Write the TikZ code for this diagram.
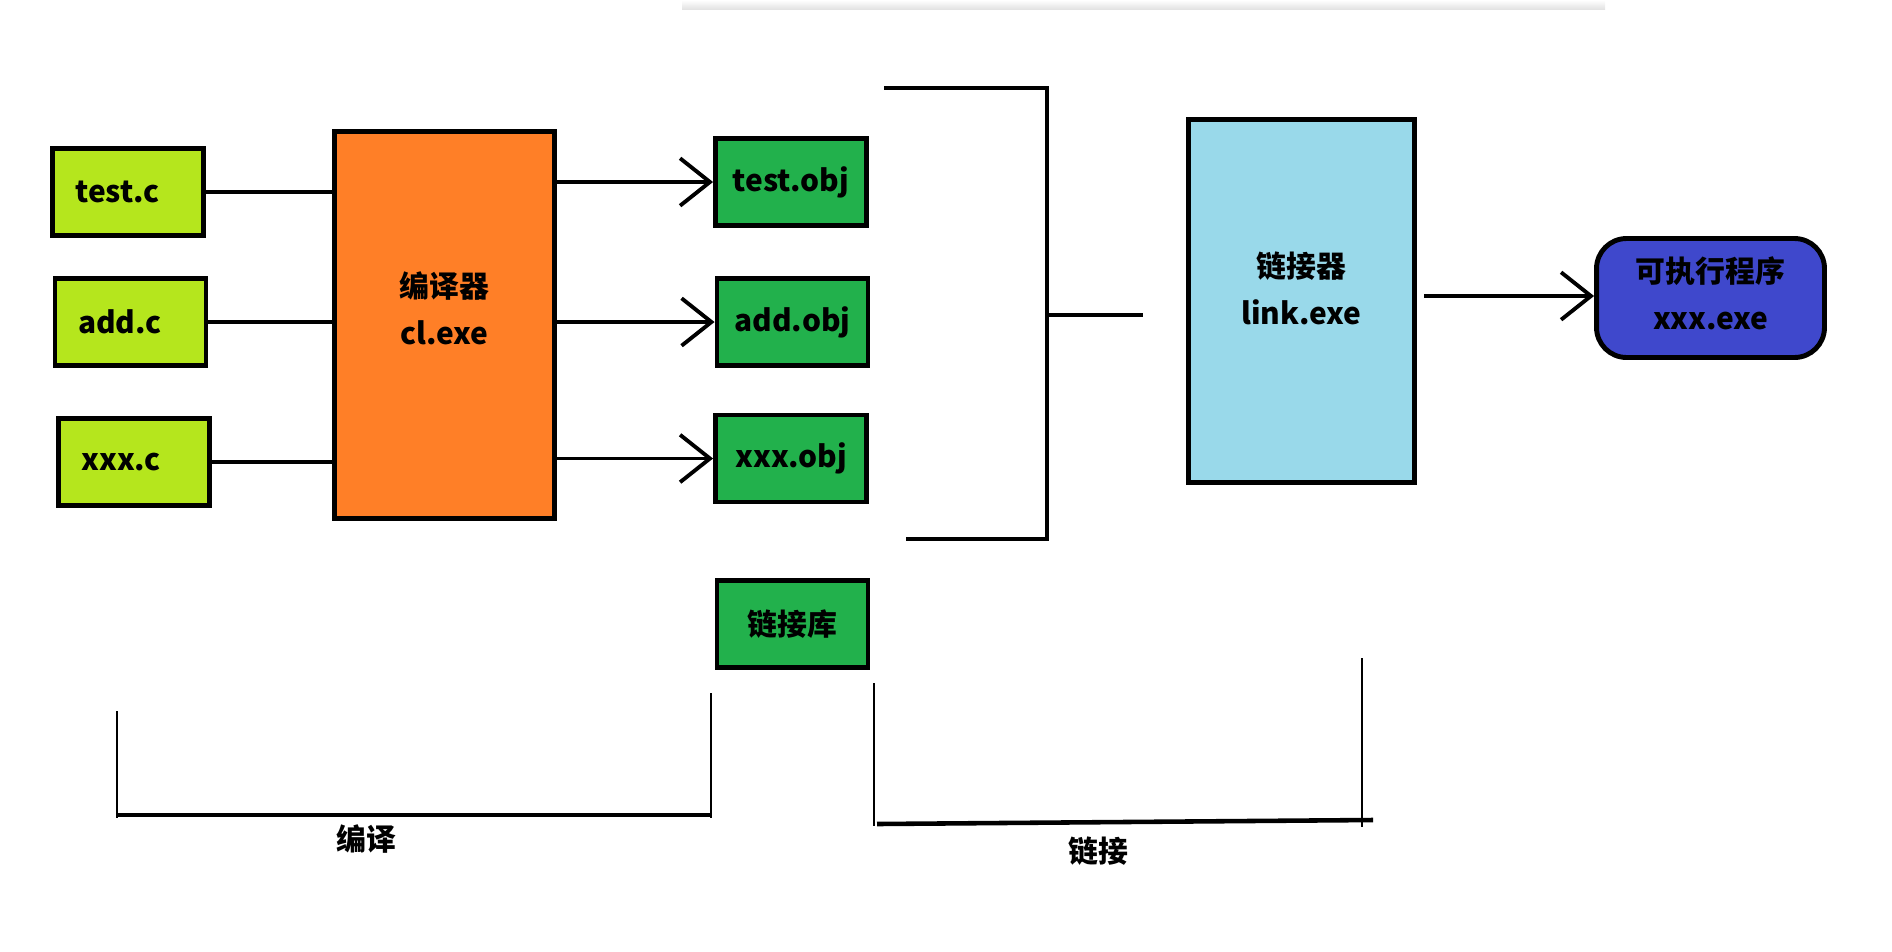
\documentclass[tikz,border=0pt]{standalone}
\usepackage{fontspec}
\setmainfont{Noto Sans CJK SC}
\usetikzlibrary{arrows.meta, positioning, calc}

\definecolor{srclime}{HTML}{B5E61D}
\definecolor{clorange}{HTML}{FF7F27}
\definecolor{objgreen}{HTML}{22B14C}
\definecolor{lkblue}{HTML}{99D9EA}
\definecolor{exeblue}{HTML}{3F48CC}

\begin{document}
\begin{tikzpicture}[
    x=0.02cm, y=-0.02cm,
    every node/.style={font=\bfseries\fontsize{17}{27}\selectfont},
    srcbox/.style={rectangle, draw=black, line width=2.8pt, fill=srclime, minimum width=3.02cm, minimum height=1.74cm, text width=2.1cm, align=left},
    objbox/.style={rectangle, draw=black, line width=2.8pt, fill=objgreen, minimum width=3.02cm, minimum height=1.74cm, align=center},
    tool/.style={rectangle, draw=black, line width=2.8pt, align=center},
    conn/.style={line width=2.2pt},
    arrow/.style={line width=2.2pt, -{Straight Barb[length=17pt, width=27pt, line width=2.2pt]}},
    brk/.style={line width=1.4pt},
    lbl/.style={inner sep=0pt}
]
\useasboundingbox (0,0) rectangle (1892,951);
\shade[top color=white, bottom color=gray!22] (682,0) rectangle (1605,9);

% Nodes
\node [srcbox] (testc) at (128,192) {test.c};
\node [srcbox] (addc) at (130.5,322) {add.c};
\node [srcbox] (xxxc) at (134,462) {xxx.c};
\node [tool, fill=clorange, minimum width=4.4cm, minimum height=7.74cm, text depth=0.68cm] (cl) at (444.5,325) {编译器\\cl.exe};
\node [objbox] (testobj) at (791,182) {test.obj};
\node [objbox] (addobj) at (792.5,322) {add.obj};
\node [objbox] (xxxobj) at (791,458.5) {xxx.obj};
\node [objbox] (lib) at (792.5,624) {链接库};
\node [tool, fill=lkblue, minimum width=4.52cm, minimum height=7.26cm, text depth=0.52cm] (lk) at (1301.5,301) {链接器\\link.exe};
\node [tool, fill=exeblue, rounded corners=0.6cm, minimum width=4.56cm, minimum height=2.38cm, text depth=0.2cm] (exe) at (1710.5,298) {可执行程序\\xxx.exe};
\node [lbl] (bianyi) at (366,839) {编译};
\node [lbl] (lianjie) at (1098,851) {链接};

% Connections
\draw [conn] (testc.east) -- (testc.east -| cl.west);
\draw [conn] (addc.east) -- (addc.east -| cl.west);
\draw [conn] (xxxc.east) -- (xxxc.east -| cl.west);
\draw [arrow] (cl.east |- testobj.west) -- (testobj.west);
\draw [arrow] (cl.east |- addobj.west) -- (addobj.west);
\draw [arrow] (cl.east |- xxxobj.west) -- (xxxobj.west);

% bracket round the .obj files
\coordinate (objtop) at (884,88);
\coordinate (objbot) at (906,539);
\coordinate (joint) at (1047,315);
\coordinate (jointend) at (1143,315);
\draw [conn] (objtop) -- (1047,88) -- (1047,539) -- (objbot);
\draw [conn] (joint) -- (jointend);

\coordinate (lkout) at (1424,296);
\draw [arrow] (lkout) -- (lkout -| exe.west);

% stages
\draw [brk] (117,711) -- (117,818);
\draw [brk] (711,693) -- (711,818);
\draw [line width=2.6pt] (117,815) -- (711,815);
\draw [brk] (874,683) -- (874,826);
\draw [brk] (1362,658) -- (1362,827);
\draw [line width=2.6pt] (877,824) -- (1373,820);
\end{tikzpicture}
\end{document}
